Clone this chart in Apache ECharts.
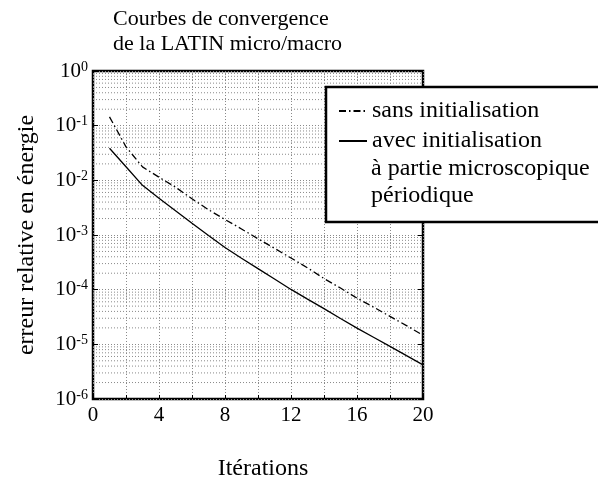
<!DOCTYPE html>
<html>
<head>
<meta charset="utf-8">
<script src="https://cdn.jsdelivr.net/npm/echarts@6/dist/echarts.min.js"></script>
<style>
html,body{margin:0;padding:0;background:#fff;}
#chart{width:598px;height:477px;}
</style>
</head>
<body>
<div id="chart"></div>
<script>
var titleText = 'Courbes de convergence\nde la LATIN micro/macro';
var xName = 'Itérations';
var yName = 'erreur relative en énergie';
var seriesNames = ['sans initialisation', 'avec initialisation'];
var legendExtraLines = ['à partie microscopique', 'périodique'];
var iterations = [1,2,3,4,5,6,7,8,9,10,11,12,13,14,15,16,17,18,19,20];
var sansInit = [0.145,0.041,0.0176,0.0114,0.0075,0.0046,0.0029,0.00192,0.00129,0.000855,0.00057,0.00038,0.000251,0.00016,0.000107,0.00007,0.000048,0.0000324,0.000022,0.0000147];
var avecInit = [0.0386,0.0177,0.0081,0.0047,0.00277,0.00164,0.00098,0.00059,0.000375,0.000243,0.000157,0.000101,0.000067,0.000045,0.0000297,0.0000198,0.0000135,0.0000092,0.0000062,0.0000042];
var xTickLabels = [0,4,8,12,16,20];
var xRange = [0, 20];

var FONT = '"Liberation Serif", "DejaVu Serif", serif';
// minor log grid positions (2..9 x each decade), drawn as a broken line series
var minorGrid = [];
for (var d = -6; d < 0; d++) {
  for (var k = 2; k <= 9; k++) {
    var v = k * Math.pow(10, d);
    minorGrid.push([xRange[0], v], [xRange[1], v], [xRange[1], '-']);
  }
}
function pairs(xs, ys) { return xs.map(function (x, i) { return [x, ys[i]]; }); }

var gridDot = { color: '#8a8a8a', type: [1, 2], width: 1 };
var chart = echarts.init(document.getElementById('chart'), null, { renderer: 'canvas' });
chart.setOption({
  animation: false,
  backgroundColor: '#fff',
  title: {
    text: titleText, left: 113, top: 7, padding: 0,
    textStyle: { fontFamily: FONT, fontSize: 22, fontWeight: 'normal', color: '#000', lineHeight: 25 }
  },
  grid: { left: 93, top: 71, width: 330, height: 328, show: true, borderColor: '#000', borderWidth: 2.5,
          backgroundColor: 'transparent', containLabel: false, outerBoundsMode: 'none' },
  legend: {
    data: seriesNames, orient: 'vertical', left: 338, top: 96, padding: 0, itemGap: 0,
    itemWidth: 28, itemHeight: 14, z: 10,
    itemStyle: { color: 'rgba(0,0,0,0)', borderColor: 'rgba(0,0,0,0)', borderWidth: 0, opacity: 0 },
    textStyle: { fontFamily: FONT, fontSize: 24, color: '#000', lineHeight: 30 }
  },
  xAxis: {
    type: 'value', min: xRange[0], max: xRange[1], interval: 2,
    name: xName, nameLocation: 'middle', nameGap: 58,
    nameTextStyle: { fontFamily: FONT, fontSize: 24, color: '#000', padding: [0, 0, 0, 10] },
    axisLine: { show: false },
    axisTick: { show: true, inside: true, length: 4, lineStyle: { color: '#000' } },
    axisLabel: {
      margin: 6, fontFamily: FONT, fontSize: 21, color: '#000',
      formatter: function (v) { return xTickLabels.indexOf(v) >= 0 ? String(v) : ''; }
    },
    splitLine: { show: true, lineStyle: gridDot }
  },
  yAxis: [{
    type: 'log', logBase: 10, min: 1e-6, max: 1,
    name: yName, nameLocation: 'middle', nameGap: 54, nameRotate: 90,
    nameTextStyle: { fontFamily: FONT, fontSize: 24, color: '#000' },
    axisLine: { show: false },
    axisTick: { show: true, inside: true, length: 5, lineStyle: { color: '#000' } },
    axisLabel: {
      margin: 5, color: '#000',
      formatter: function (v) {
        var e = Math.round(Math.log10(v));
        return '{b|10}{s|' + e + '}';
      },
      rich: {
        b: { fontFamily: FONT, fontSize: 21, lineHeight: 22, color: '#000' },
        s: { fontFamily: FONT, fontSize: 14, lineHeight: 14, verticalAlign: 'top', padding: [0, 0, 9, 0], color: '#000' }
      }
    },
    splitLine: { show: true, lineStyle: gridDot }
  }, {
    type: 'log', logBase: 10, min: 1e-6, max: 1, position: 'right',
    axisLine: { show: false },
    axisTick: { show: true, inside: true, length: 5, lineStyle: { color: '#000' } },
    axisLabel: { show: false },
    splitLine: { show: false }
  }],
  series: [{
    name: 'minor-grid', type: 'line', data: minorGrid, connectNulls: false,
    symbol: 'none', silent: true, lineStyle: gridDot, z: 1
  }, {
    name: seriesNames[0], type: 'line', data: pairs(iterations, sansInit),
    symbol: 'none', lineStyle: { color: '#000', width: 1.3, type: [7, 3, 1.5, 3] },
    itemStyle: { color: '#000' }, z: 3
  }, {
    name: seriesNames[1], type: 'line', data: pairs(iterations, avecInit),
    symbol: 'none', lineStyle: { color: '#000', width: 1.3, type: 'solid' },
    itemStyle: { color: '#000' }, z: 3
  }],
  graphic: [
    { type: 'rect', z: 8, shape: { x: 326, y: 87, width: 300, height: 135 },
      style: { fill: '#fff', stroke: '#000', lineWidth: 2.5 } },
    { type: 'text', z: 10, x: 371, y: 169, style: { text: legendExtraLines[0], font: '24px ' + FONT, fill: '#000', verticalAlign: 'middle' } },
    { type: 'text', z: 10, x: 371, y: 196, style: { text: legendExtraLines[1], font: '24px ' + FONT, fill: '#000', verticalAlign: 'middle' } }
  ]
});
</script>
</body>
</html>
